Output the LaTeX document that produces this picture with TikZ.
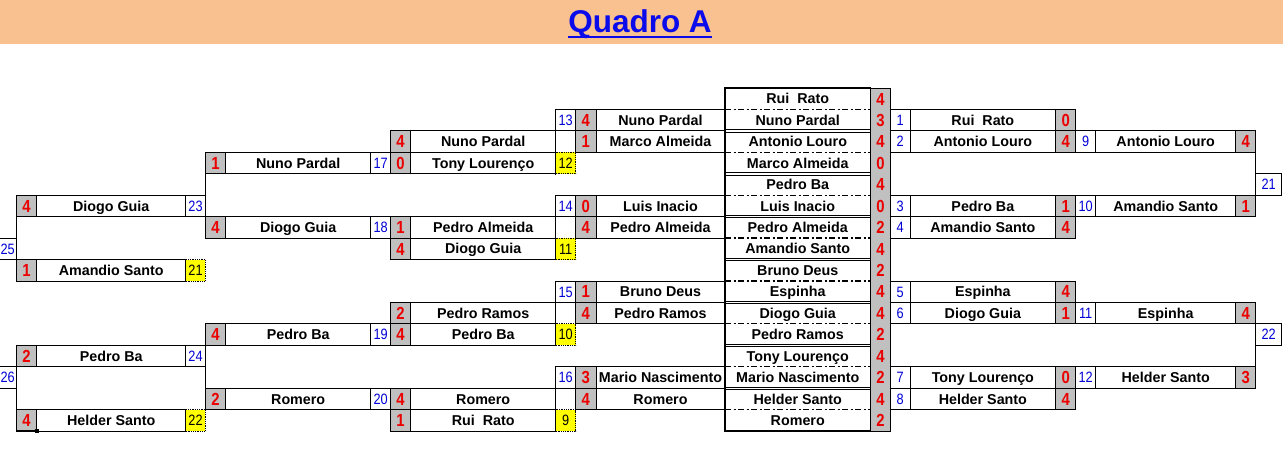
\documentclass[tikz,border=0pt]{standalone}
\usepackage{fontspec}
\setmainfont{Liberation Sans}
\newfontfamily\narrowf[FakeStretch=0.85]{Liberation Sans}
\definecolor{peach}{RGB}{249,193,143}
\definecolor{sgray}{RGB}{192,192,192}
\definecolor{sred}{RGB}{235,0,0}
\definecolor{nblue}{RGB}{0,0,215}
\definecolor{tblue}{RGB}{10,10,235}
\definecolor{ylw}{RGB}{255,255,0}
% column left edges and widths (px)
\def\xA{-1}      \def\wA{17.5}
\def\xB{16.5}    \def\wB{20.2}
\def\xC{36.7}    \def\wC{149}
\def\xD{185.7}   \def\wD{19.6}
\def\xE{205.3}   \def\wE{20.4}
\def\xF{225.7}   \def\wF{145}
\def\xG{370.7}   \def\wG{19.8}
\def\xH{390.5}   \def\wH{20.2}
\def\xI{410.7}   \def\wI{145}
\def\xJ{555.7}   \def\wJ{20}
\def\xK{575.7}   \def\wK{20.3}
\def\xL{596}     \def\wL{129}
\def\xM{725}     \def\wM{145.5}
\def\xN{870.5}   \def\wN{20}
\def\xO{890.5}   \def\wO{19.5}
\def\xP{910}     \def\wP{145.7}
\def\xQ{1055.7}  \def\wQ{20}
\def\xR{1075.7}  \def\wR{20}
\def\xS{1095.7}  \def\wS{140}
\def\xT{1235.7}  \def\wT{20}
\def\xU{1255.7}  \def\wU{26}
\newcommand\cell[5]{%
  \pgfmathsetmacro\cx{\csname x#2\endcsname}%
  \pgfmathsetmacro\cy{88+21.44*#3}%
  \node[#4,minimum width=\csname w#2\endcsname pt,minimum height=21.44pt,anchor=north west] (#1) at (\cx,\cy) {#5};}
\tikzset{
  cellbase/.style={inner sep=0pt,outer sep=0pt,line width=0.8pt},
  namefont/.style={font=\fontsize{14.3}{16}\selectfont\bfseries,text height=10.3pt,text depth=0pt},
  scorefont/.style={font=\narrowf\fontsize{17.5}{18}\selectfont\bfseries,text height=12.6pt,text depth=0pt},
  numfont/.style={font=\narrowf\fontsize{15}{16}\selectfont,text height=10.8pt,text depth=0pt},
  namec/.style={cellbase,draw,fill=white,namefont},
  scorec/.style={cellbase,draw,fill=sgray,text=sred,scorefont},
  numc/.style={cellbase,draw,fill=white,text=nblue,numfont},
  yelc/.style={cellbase,draw,densely dotted,fill=ylw,text=black,numfont},
  cname/.style={cellbase,fill=white,namefont},
  cscore/.style={cellbase,fill=sgray,text=sred,scorefont},
  conn/.style={line width=0.8pt},
  ddot/.style={line width=1.3pt,dash pattern=on 6pt off 2.5pt on 2pt off 2.5pt},
}
\begin{document}
\begin{tikzpicture}[x=1pt,y=-1pt]
\useasboundingbox (0,0) rectangle (1283,449);
% title band
\node[fill=peach,inner sep=0,outer sep=0,minimum width=1283pt,minimum height=44pt,anchor=north west] (band) at (0,0) {};
\node[inner sep=0,anchor=base,text=tblue,font=\fontsize{31.5}{34}\selectfont\bfseries] (title) at (640,33) {Quadro A};
\draw[tblue,line width=2pt] ([yshift=-4pt]title.base west) -- ([yshift=-4pt]title.base east);

% yellow cells first
\cell{d8}{D}{8}{yelc}{21}
\cell{d15}{D}{15}{yelc}{22}
\cell{j3}{J}{3}{yelc}{12}
\cell{j7}{J}{7}{yelc}{11}
\cell{j11}{J}{11}{yelc}{10}
\cell{j15}{J}{15}{yelc}{9}

% left outer column
\cell{a7}{A}{7}{numc}{25}
\cell{a13}{A}{13}{numc}{26}
\cell{b5}{B}{5}{scorec}{4}  \cell{c5}{C}{5}{namec}{Diogo Guia}     \cell{d5}{D}{5}{numc}{23}
\cell{b8}{B}{8}{scorec}{1}  \cell{c8}{C}{8}{namec}{Amandio Santo}
\cell{b12}{B}{12}{scorec}{2} \cell{c12}{C}{12}{namec}{Pedro Ba}    \cell{d12}{D}{12}{numc}{24}
\cell{b15}{B}{15}{scorec}{4} \cell{c15}{C}{15}{namec}{Helder Santo}

% E F G
\cell{e3}{E}{3}{scorec}{1}   \cell{f3}{F}{3}{namec}{Nuno Pardal}  \cell{g3}{G}{3}{numc}{17}
\cell{e6}{E}{6}{scorec}{4}   \cell{f6}{F}{6}{namec}{Diogo Guia}   \cell{g6}{G}{6}{numc}{18}
\cell{e11}{E}{11}{scorec}{4} \cell{f11}{F}{11}{namec}{Pedro Ba}   \cell{g11}{G}{11}{numc}{19}
\cell{e14}{E}{14}{scorec}{2} \cell{f14}{F}{14}{namec}{Romero}     \cell{g14}{G}{14}{numc}{20}

% H I
\cell{h2}{H}{2}{scorec}{4}   \cell{i2}{I}{2}{namec}{Nuno Pardal}
\cell{h3}{H}{3}{scorec}{0}   \cell{i3}{I}{3}{namec}{Tony Lourenço}
\cell{h6}{H}{6}{scorec}{1}   \cell{i6}{I}{6}{namec}{Pedro Almeida}
\cell{h7}{H}{7}{scorec}{4}   \cell{i7}{I}{7}{namec}{Diogo Guia}
\cell{h10}{H}{10}{scorec}{2} \cell{i10}{I}{10}{namec}{Pedro Ramos}
\cell{h11}{H}{11}{scorec}{4} \cell{i11}{I}{11}{namec}{Pedro Ba}
\cell{h14}{H}{14}{scorec}{4} \cell{i14}{I}{14}{namec}{Romero}
\cell{h15}{H}{15}{scorec}{1} \cell{i15}{I}{15}{namec}{Rui\ \ Rato}

% J K L
\cell{j1}{J}{1}{numc}{13}   \cell{k1}{K}{1}{scorec}{4}   \cell{l1}{L}{1}{namec}{Nuno Pardal}
                            \cell{k2}{K}{2}{scorec}{1}   \cell{l2}{L}{2}{namec}{Marco Almeida}
\cell{j5}{J}{5}{numc}{14}   \cell{k5}{K}{5}{scorec}{0}   \cell{l5}{L}{5}{namec}{Luis Inacio}
                            \cell{k6}{K}{6}{scorec}{4}   \cell{l6}{L}{6}{namec}{Pedro Almeida}
\cell{j9}{J}{9}{numc}{15}   \cell{k9}{K}{9}{scorec}{1}   \cell{l9}{L}{9}{namec}{Bruno Deus}
                            \cell{k10}{K}{10}{scorec}{4} \cell{l10}{L}{10}{namec}{Pedro Ramos}
\cell{j13}{J}{13}{numc}{16} \cell{k13}{K}{13}{scorec}{3} \cell{l13}{L}{13}{namec}{Mario Nascimento}
                            \cell{k14}{K}{14}{scorec}{4} \cell{l14}{L}{14}{namec}{Romero}

% centre column
\cell{m0}{M}{0}{cname}{Rui\ \ Rato}        \cell{n0}{N}{0}{cscore}{4}
\cell{m1}{M}{1}{cname}{Nuno Pardal}        \cell{n1}{N}{1}{cscore}{3}
\cell{m2}{M}{2}{cname}{Antonio Louro}      \cell{n2}{N}{2}{cscore}{4}
\cell{m3}{M}{3}{cname}{Marco Almeida}      \cell{n3}{N}{3}{cscore}{0}
\cell{m4}{M}{4}{cname}{Pedro Ba}           \cell{n4}{N}{4}{cscore}{4}
\cell{m5}{M}{5}{cname}{Luis Inacio}        \cell{n5}{N}{5}{cscore}{0}
\cell{m6}{M}{6}{cname}{Pedro Almeida}      \cell{n6}{N}{6}{cscore}{2}
\cell{m7}{M}{7}{cname}{Amandio Santo}      \cell{n7}{N}{7}{cscore}{4}
\cell{m8}{M}{8}{cname}{Bruno Deus}         \cell{n8}{N}{8}{cscore}{2}
\cell{m9}{M}{9}{cname}{Espinha}            \cell{n9}{N}{9}{cscore}{4}
\cell{m10}{M}{10}{cname}{Diogo Guia}       \cell{n10}{N}{10}{cscore}{4}
\cell{m11}{M}{11}{cname}{Pedro Ramos}      \cell{n11}{N}{11}{cscore}{2}
\cell{m12}{M}{12}{cname}{Tony Lourenço}    \cell{n12}{N}{12}{cscore}{4}
\cell{m13}{M}{13}{cname}{Mario Nascimento} \cell{n13}{N}{13}{cscore}{2}
\cell{m14}{M}{14}{cname}{Helder Santo}     \cell{n14}{N}{14}{cscore}{4}
\cell{m15}{M}{15}{cname}{Romero}           \cell{n15}{N}{15}{cscore}{2}

% right O P Q
\cell{o1}{O}{1}{numc}{1}    \cell{p1}{P}{1}{namec}{Rui\ \ Rato}     \cell{q1}{Q}{1}{scorec}{0}
\cell{o2}{O}{2}{numc}{2}    \cell{p2}{P}{2}{namec}{Antonio Louro}   \cell{q2}{Q}{2}{scorec}{4}
\cell{o5}{O}{5}{numc}{3}    \cell{p5}{P}{5}{namec}{Pedro Ba}        \cell{q5}{Q}{5}{scorec}{1}
\cell{o6}{O}{6}{numc}{4}    \cell{p6}{P}{6}{namec}{Amandio Santo}   \cell{q6}{Q}{6}{scorec}{4}
\cell{o9}{O}{9}{numc}{5}    \cell{p9}{P}{9}{namec}{Espinha}         \cell{q9}{Q}{9}{scorec}{4}
\cell{o10}{O}{10}{numc}{6}  \cell{p10}{P}{10}{namec}{Diogo Guia}    \cell{q10}{Q}{10}{scorec}{1}
\cell{o13}{O}{13}{numc}{7}  \cell{p13}{P}{13}{namec}{Tony Lourenço} \cell{q13}{Q}{13}{scorec}{0}
\cell{o14}{O}{14}{numc}{8}  \cell{p14}{P}{14}{namec}{Helder Santo}  \cell{q14}{Q}{14}{scorec}{4}

% right R S T U
\cell{r2}{R}{2}{numc}{9}    \cell{s2}{S}{2}{namec}{Antonio Louro}   \cell{t2}{T}{2}{scorec}{4}
\cell{r5}{R}{5}{numc}{10}   \cell{s5}{S}{5}{namec}{Amandio Santo}   \cell{t5}{T}{5}{scorec}{1}
\cell{r10}{R}{10}{numc}{11} \cell{s10}{S}{10}{namec}{Espinha}       \cell{t10}{T}{10}{scorec}{4}
\cell{r13}{R}{13}{numc}{12} \cell{s13}{S}{13}{namec}{Helder Santo}  \cell{t13}{T}{13}{scorec}{3}
\cell{u4}{U}{4}{numc}{21}
\cell{u11}{U}{11}{numc}{22}

% bracket connectors
\draw[conn] (b5.south west) -- (b8.north west);
\draw[conn] (b12.south west) -- (b15.north west);
\draw[conn] (e3.south west) -- (e6.north west);
\draw[conn] (e11.south west) -- (e14.north west);
\draw[conn] (t2.south east) -- (t5.north east);
\draw[conn] (t10.south east) -- (t13.north east);

% centre separators
\foreach \k in {1,3,...,15}{\draw[ddot] (m\k.north west) -- (m\k.north east);}
\foreach \k in {2,4,...,14}{
  \draw[cellbase] ([yshift=1.2pt]m\k.north west) -- ([yshift=1.2pt]m\k.north east);
  \draw[cellbase] ([yshift=-1.2pt]m\k.north west) -- ([yshift=-1.2pt]m\k.north east);}
\draw[cellbase] (n0.north west) rectangle (n15.south east);
\draw[line width=1.9pt] (m0.north west) rectangle (m15.south east);

% active-cell selection
\draw[line width=1.5pt] (b15.north west) rectangle (b15.south east);
\fill (b15.south east) ++(-2,-2) rectangle ++(4,4);
\end{tikzpicture}
\end{document}
